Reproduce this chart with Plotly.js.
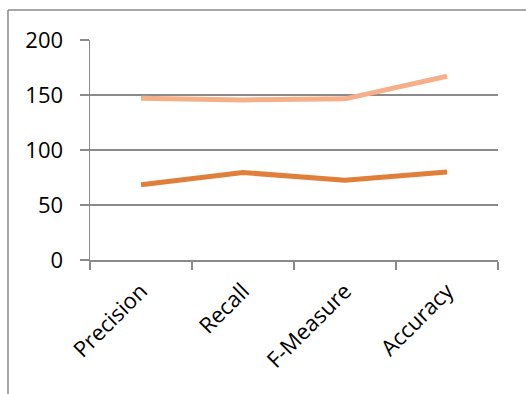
<!DOCTYPE html>
<html><head><meta charset="utf-8">
<script src="https://cdn.plot.ly/plotly-3.0.1.min.js"></script>
<style>html,body{margin:0;padding:0;background:#fff}#c{width:526px;height:394px}</style>
</head><body><div id="c"></div>
<script>
const categories = ["Precision", "Recall", "F-Measure", "Accuracy"];
const seriesLight = [147, 145.5, 146.5, 167];
const seriesDark = [68.5, 79.5, 72.5, 80];
const yTicks = [0, 50, 100, 150, 200];

const gray = "#8a8a8a";
const traces = [
  {x: categories, y: seriesDark, type: "scatter", mode: "lines", line: {color: "#E07F3A", width: 5}},
  {x: categories, y: seriesLight, type: "scatter", mode: "lines", line: {color: "#F5B08A", width: 5}}
];
const layout = {
  width: 526, height: 394,
  margin: {l: 90, r: 28, t: 40, b: 134},
  showlegend: false,
  paper_bgcolor: "#fff", plot_bgcolor: "#fff",
  font: {family: "Open Sans, sans-serif", color: "#000"},
  xaxis: {
    type: "category", range: [-0.5, 3.5], tickson: "boundaries",
    ticks: "outside", ticklen: 8, tickcolor: gray, tickwidth: 1.5,
    showline: true, linecolor: gray, linewidth: 1.5, showgrid: false,
    tickangle: -45, tickfont: {size: 22}, zeroline: false, ticklabelstandoff: 8
  },
  yaxis: {
    range: [0, 200], tickvals: yTicks, ticktext: yTicks.map(String),
    ticks: "outside", ticklen: 9, tickcolor: gray, tickwidth: 1.5,
    showline: true, linecolor: gray, linewidth: 1.5,
    showgrid: true, gridcolor: gray, gridwidth: 1.5, zeroline: false,
    tickfont: {size: 22}, ticklabelstandoff: 12
  },
  shapes: [
    {type: "line", xref: "paper", yref: "paper", x0: -0.201, x1: -0.201, y0: 1.136, y1: -0.62, line: {color: gray, width: 1.5}},
    {type: "line", xref: "paper", yref: "paper", x0: -0.201, x1: 1.08, y0: 1.136, y1: 1.136, line: {color: gray, width: 1.5}}
  ]
};
Plotly.newPlot("c", traces, layout, {displayModeBar: false, staticPlot: true});
</script></body></html>
